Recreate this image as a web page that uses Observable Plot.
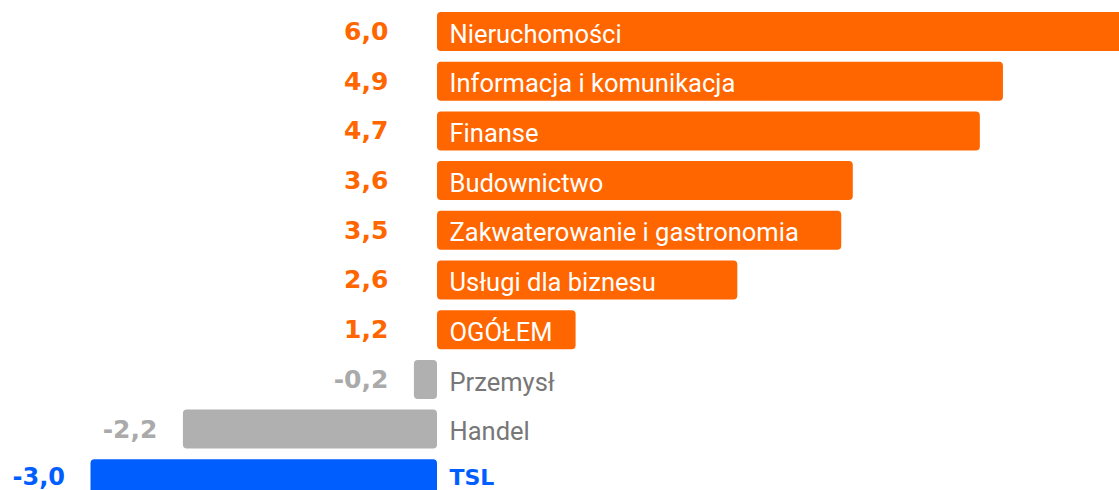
<!DOCTYPE html>
<html>
<head>
<meta charset="utf-8">
<script src="https://cdn.jsdelivr.net/npm/d3@7"></script>
<script src="https://cdn.jsdelivr.net/npm/@observablehq/plot@0.6"></script>
<style>
  html, body { margin: 0; padding: 0; background: #fff; }
  #chart svg { display: block; overflow: hidden; }
</style>
</head>
<body>
<div id="chart"></div>
<script>
const categories = ["Nieruchomości", "Informacja i komunikacja", "Finanse", "Budownictwo",
  "Zakwaterowanie i gastronomia", "Usługi dla biznesu", "OGÓŁEM", "Przemysł", "Handel", "TSL"];
const values = [6.0, 4.9, 4.7, 3.6, 3.5, 2.6, 1.2, -0.2, -2.2, -3.0];
const groups = ["pos", "pos", "pos", "pos", "pos", "pos", "pos", "neg", "neg", "tsl"];

const data = categories.map((c, i) => ({name: c, value: values[i], group: groups[i],
  label: values[i].toFixed(1).replace(".", ",")}));

const barColor = {pos: "#ff6600", neg: "#b0b0b0", tsl: "#005eff"};
const valueColor = {pos: "#ff6600", neg: "#aaaaaa", tsl: "#005eff"};
const nameColor = {pos: "#ffffff", neg: "#777777", tsl: "#005eff"};

const main = data.filter(d => d.group !== "tsl");
const tsl = data.filter(d => d.group === "tsl");

const chart = Plot.plot({
  width: 1119,
  height: 490,
  marginTop: 0, marginBottom: 0, marginLeft: 0, marginRight: 0,
  x: {domain: [-3, 6], range: [90.5, 1130], axis: null},
  y: {domain: categories, range: [12, 498.3], paddingInner: 0.215, paddingOuter: 0, round: false, axis: null},
  marks: [
    Plot.barX(data, {x1: 0, x2: "value", y: "name", fill: d => barColor[d.group], rx: 4}),
    Plot.text(main, {x: 0, y: "name", text: "name", dx: 12, dy: 2.5,
      textAnchor: "start", fill: d => nameColor[d.group], fontSize: 25.5,
      fontFamily: "Roboto", fontWeight: "normal"}),
    Plot.text(tsl, {x: 0, y: "name", text: "name", dx: 12, dy: -1,
      textAnchor: "start", fill: d => nameColor[d.group], fontSize: 22,
      fontFamily: "DejaVu Sans", fontWeight: "bold"}),
    Plot.text(main, {x: d => Math.min(d.value, -0.2), y: "name", text: "label", dx: -26,
      textAnchor: "end", fill: d => valueColor[d.group], fontSize: 25,
      fontFamily: "DejaVu Sans", fontWeight: "bold"}),
    Plot.text(tsl, {x: d => Math.min(d.value, -0.2), y: "name", text: "label", dx: -26, dy: -2,
      textAnchor: "end", fill: d => valueColor[d.group], fontSize: 24,
      fontFamily: "DejaVu Sans", fontWeight: "bold"})
  ]
});
document.getElementById("chart").append(chart);
</script>
</body>
</html>
